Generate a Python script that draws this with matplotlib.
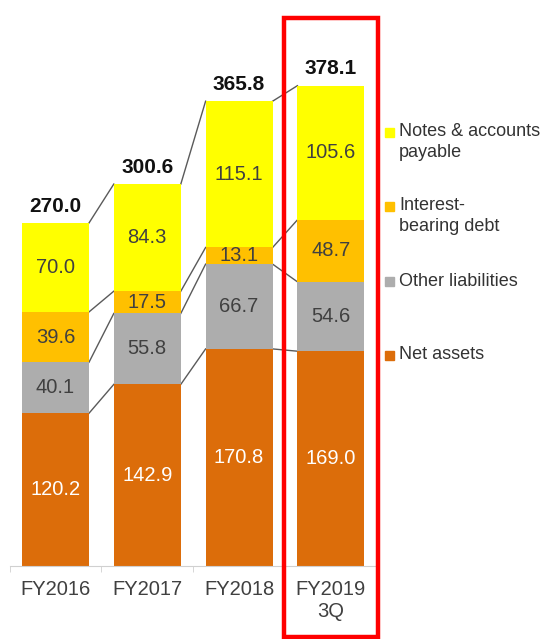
import matplotlib.pyplot as plt
from matplotlib.patches import Rectangle
import numpy as np

plt.rcParams['font.family'] = ['Liberation Sans', 'DejaVu Sans']

# data
periods = ["FY2016", "FY2017", "FY2018", "FY2019\n3Q"]
series = ["Net assets", "Other liabilities", "Interest-\nbearing debt", "Notes & accounts\npayable"]
net_assets = [120.2, 142.9, 170.8, 169.0]
other_liab = [40.1, 55.8, 66.7, 54.6]
interest_debt = [39.6, 17.5, 13.1, 48.7]
notes_payable = [70.0, 84.3, 115.1, 105.6]
totals = [270.0, 300.6, 365.8, 378.1]

colors = ["#DC6D0A", "#ADADAD", "#FFC000", "#FFFF00"]
label_colors = ["white", "#404040", "#404040", "#404040"]

W, H = 554, 639
fig = plt.figure(figsize=(W / 100, H / 100), dpi=100)

# axes placed in pixels: x from 9.6 to 376.8, baseline at y=566
ax = fig.add_axes([9.6 / W, (H - 566) / H, (376.8 - 9.6) / W, 508.4 / H])
ax.set_xlim(-0.5, 3.5)
ax.set_ylim(0, 400)

x = np.arange(len(periods))
width = 0.73
stack = [net_assets, other_liab, interest_debt, notes_payable]
bottom = np.zeros(len(periods))
levels = []
for vals, c, tc in zip(stack, colors, label_colors):
    vals = np.array(vals)
    ax.bar(x, vals, width, bottom=bottom, color=c, edgecolor="none", zorder=2)
    for xi, b, v in zip(x, bottom, vals):
        ax.text(xi, b + v / 2, f"{v:.1f}", ha="center", va="center",
                fontsize=14.5, color=tc, zorder=3)
    bottom = bottom + vals
    levels.append(bottom.copy())

# connector lines between bars
for lev in levels:
    for i in range(len(periods) - 1):
        ax.plot([x[i] + width / 2, x[i + 1] - width / 2], [lev[i], lev[i + 1]],
                color="#5A5A5A", lw=1.0, zorder=1)

for xi, t in zip(x, totals):
    ax.annotate(f"{t:.1f}", (xi, t), xytext=(0, 5), textcoords="offset points",
                ha="center", va="bottom", fontsize=15, fontweight="bold",
                color="#111111")

for s in ["top", "right", "left"]:
    ax.spines[s].set_visible(False)
ax.spines["bottom"].set_color("#D0D0D0")
ax.set_yticks([])
ax.set_xticks(x)
ax.set_xticklabels(periods, fontsize=14.5, color="#404040", linespacing=1.2)
ax.tick_params(axis="x", length=0, pad=10)
ax.set_xticks(np.arange(-0.5, 3.0, 1.0), minor=True)
ax.tick_params(axis="x", which="minor", length=4, color="#D0D0D0")

# legend drawn by hand
def fx(px):
    return px / W

def fy(py):
    return 1 - py / H

legend_rows = [(3, 132), (2, 206), (1, 282), (0, 355)]
for idx, py in legend_rows:
    fig.patches.append(Rectangle((fx(385), fy(py + 4.5)), 9 / W, 9 / H,
                                 transform=fig.transFigure, color=colors[idx]))
    fig.text(fx(399), fy(py - 9), series[idx], ha="left", va="top",
             fontsize=13, color="#333333", linespacing=1.3)

# red highlight box
fig.patches.append(Rectangle((fx(284), fy(637)), 94 / W, 619 / H,
                             transform=fig.transFigure, fill=False,
                             edgecolor="#FF0000", lw=3.2))

fig.savefig("out.png", dpi=100)
